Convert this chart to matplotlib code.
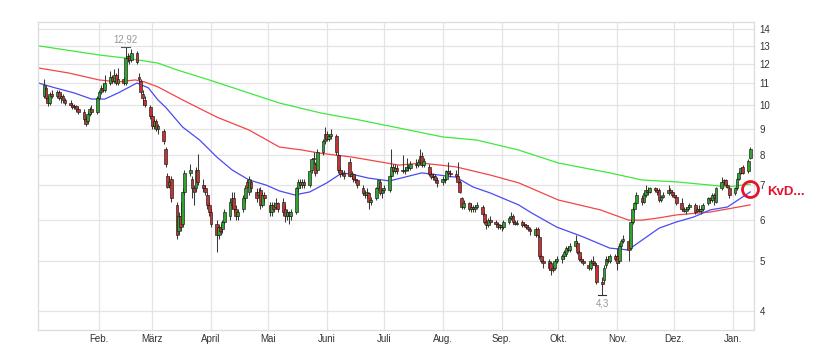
import matplotlib
matplotlib.use('Agg')
import matplotlib.pyplot as plt
import matplotlib.dates as mdates
import matplotlib.ticker as mticker
import numpy as np
import pandas as pd

plt.rcParams['font.family'] = ['Liberation Sans', 'DejaVu Sans']

# ---- daily candles (business days 2022-01-03 .. 2023-01-10), one line per week ----
opens = [
    10.4, 10.8, 10.3, 10.1, 10.5,
    10.4, 10.6, 10.3, 10.4, 10.2,
    10.1, 10.0, 9.9, 9.95, 9.8,
    9.7, 9.4, 9.3, 9.6, 9.8,
    9.7, 10.3, 10.6, 10.8, 10.7,
    11.0, 11.3, 11.1, 11.4, 11.0,
    11.2, 11.0, 12.3, 12.4, 12.2,
    12.6, 11.3, 11.1, 10.5, 10.2,
    9.9, 9.5, 9.1, 9.3, 9.0,
    8.9, 8.2, 7.3, 7.0, 7.2,
    6.4, 5.7, 6.1, 5.9, 6.8,
    7.4, 7.2, 6.9, 6.9, 7.5,
    7.0, 6.9, 6.7, 6.4, 6.2,
    5.9, 5.6, 5.8, 5.75, 5.95,
    6.1, 6.4, 6.6, 6.3, 6.1,
    6.3, 6.6, 7.1, 6.8, 7.1,
    6.8, 6.7, 6.85, 6.4, 6.7,
    6.4, 6.2, 6.4, 6.35, 6.45,
    6.5, 6.3, 6.1, 6.2, 6.1,
    6.2, 6.9, 7.1, 7.0, 7.1,
    7.0, 7.5, 7.85, 7.7, 7.5,
    8.1, 8.5, 8.8, 8.6, 8.7,
    8.7, 8.0, 7.5, 7.35, 7.4,
    7.75, 7.3, 7.35, 7.2, 7.15,
    6.9, 6.75, 6.7, 6.75, 6.5,
    6.6, 6.9, 7.1, 6.75, 6.85,
    6.85, 7.3, 7.6, 7.45, 7.55,
    7.5, 7.45, 7.5, 7.6, 7.55,
    7.7, 7.65, 7.75, 7.95, 7.65,
    7.6, 7.35, 7.25, 7.3, 7.15,
    7.1, 7.2, 7.2, 7.45, 7.4,
    7.35, 7.3, 7.1, 6.6, 6.35,
    6.45, 6.3, 6.35, 6.3, 6.35,
    6.35, 6.15, 5.95, 5.85, 6.0,
    5.95, 5.9, 5.8, 5.85, 5.8,
    5.95, 6.05, 6.1, 5.95, 5.9,
    5.95, 5.9, 5.85, 5.8, 5.75,
    5.6, 5.75, 5.55, 5.1, 5.0,
    5.0, 4.95, 4.85, 4.85, 5.0,
    5.05, 5.1, 5.15, 5.3, 5.25,
    5.35, 5.4, 5.2, 5.05, 5.0,
    4.9, 4.85, 5.0, 4.95, 4.9,
    4.55, 4.6, 4.9, 5.05, 5.0,
    5.1, 5.1, 5.0, 5.35, 5.45,
    5.45, 5.3, 5.95, 6.3, 6.45,
    6.6, 6.5, 6.7, 6.85, 6.8,
    6.9, 6.85, 6.85, 6.55, 6.65,
    6.75, 6.85, 6.8, 6.7, 6.65,
    6.45, 6.3, 6.25, 6.3, 6.35,
    6.4, 6.25, 6.3, 6.25, 6.3,
    6.45, 6.6, 6.55, 6.7, 6.5,
    6.9, 7.1, 7.15, 7.0, 6.9,
    6.75, 6.9, 7.2, 7.4, 7.6,
    7.45, 7.9,
]
highs = [
    11.2, 10.9, 10.4, 10.6, 10.7,
    10.7, 10.7, 10.5, 10.5, 10.3,
    10.2, 10.1, 10.05, 10.0, 9.9,
    9.8, 9.5, 9.7, 9.9, 10.0,
    10.4, 10.7, 10.9, 11.0, 11.4,
    11.6, 11.4, 11.7, 11.5, 11.8,
    11.3, 12.92, 12.6, 12.5, 12.8,
    12.7, 11.5, 11.2, 10.7, 10.4,
    10.0, 9.6, 9.4, 9.4, 9.2,
    9.0, 8.3, 7.4, 7.3, 7.3,
    6.5, 6.2, 6.5, 6.9, 7.5,
    7.7, 7.3, 7.0, 7.6, 8.05,
    7.2, 7.0, 6.8, 6.5, 6.3,
    6.0, 5.9, 5.9, 6.0, 6.3,
    6.6, 6.8, 6.8, 6.4, 6.3,
    6.7, 7.0, 7.2, 7.3, 7.2,
    6.9, 6.9, 6.95, 6.8, 6.8,
    6.5, 6.5, 6.5, 6.6, 6.5,
    6.6, 6.4, 6.3, 6.25, 6.3,
    6.95, 7.2, 7.2, 7.2, 7.2,
    7.5, 7.9, 8.1, 7.75, 8.2,
    8.6, 9.05, 8.9, 8.8, 9.0,
    8.8, 8.1, 7.6, 7.5, 7.5,
    7.9, 7.45, 7.4, 7.3, 7.2,
    7.0, 6.85, 6.9, 6.8, 6.65,
    6.95, 7.2, 7.15, 6.9, 7.0,
    7.35, 8.2, 7.7, 7.7, 7.65,
    8.0, 7.6, 7.9, 7.7, 7.8,
    7.85, 7.85, 8.2, 8.1, 7.9,
    7.7, 7.45, 7.4, 7.35, 7.25,
    7.3, 7.3, 7.5, 7.75, 7.5,
    7.5, 7.75, 7.15, 6.65, 6.55,
    6.5, 6.45, 6.4, 6.4, 6.5,
    6.4, 6.2, 6.0, 6.05, 6.1,
    6.0, 5.95, 5.9, 5.9, 6.0,
    6.1, 6.2, 6.15, 6.0, 6.0,
    6.0, 5.95, 5.9, 5.85, 5.8,
    5.8, 5.8, 5.6, 5.15, 5.05,
    5.05, 5.0, 4.9, 5.05, 5.1,
    5.15, 5.25, 5.35, 5.35, 5.4,
    5.6, 5.45, 5.25, 5.1, 5.05,
    4.95, 5.05, 5.1, 5.0, 4.95,
    4.65, 4.9, 5.1, 5.1, 5.15,
    5.15, 5.3, 5.4, 5.5, 5.6,
    5.5, 6.0, 6.35, 6.5, 6.8,
    6.7, 6.8, 7.0, 6.95, 6.95,
    6.95, 6.9, 6.9, 6.7, 6.8,
    7.0, 6.9, 6.85, 6.75, 6.7,
    6.6, 6.35, 6.35, 6.4, 6.45,
    6.45, 6.35, 6.4, 6.35, 6.45,
    6.65, 6.65, 6.75, 6.75, 6.95,
    7.25, 7.2, 7.2, 7.05, 6.95,
    6.95, 7.25, 7.45, 7.6, 7.65,
    7.85, 8.3,
]
lows = [
    10.3, 10.2, 9.95, 10.0, 10.3,
    10.3, 10.2, 10.1, 10.1, 10.0,
    9.9, 9.8, 9.8, 9.7, 9.6,
    9.3, 9.1, 9.2, 9.5, 9.6,
    9.6, 10.2, 10.5, 10.6, 10.6,
    10.9, 11.0, 11.0, 10.9, 10.9,
    10.9, 10.9, 12.1, 12.0, 12.1,
    12.0, 11.0, 10.5, 10.0, 9.9,
    9.4, 9.0, 9.0, 8.9, 8.8,
    8.4, 7.6, 6.9, 6.9, 6.5,
    5.5, 5.6, 5.7, 5.8, 6.7,
    7.3, 6.6, 6.4, 6.8, 7.0,
    6.8, 6.7, 6.3, 6.1, 5.8,
    5.2, 5.5, 5.6, 5.65, 5.9,
    6.0, 6.3, 6.2, 6.0, 6.0,
    6.2, 6.5, 6.9, 6.7, 6.8,
    6.5, 6.6, 6.3, 6.35, 6.5,
    6.1, 6.1, 6.2, 6.3, 6.2,
    6.1, 5.95, 6.0, 5.9, 6.0,
    6.15, 6.8, 6.9, 6.9, 6.9,
    6.95, 7.4, 7.7, 7.3, 7.45,
    8.0, 8.4, 8.5, 8.5, 8.6,
    8.0, 7.4, 7.25, 7.3, 7.2,
    7.25, 7.2, 7.1, 7.05, 6.9,
    6.7, 6.6, 6.6, 6.3, 6.4,
    6.55, 6.85, 6.7, 6.6, 6.75,
    6.8, 7.25, 7.4, 7.4, 7.35,
    7.4, 7.35, 7.45, 7.45, 7.5,
    7.55, 7.6, 7.7, 7.6, 7.6,
    7.3, 7.2, 7.15, 7.05, 6.95,
    7.0, 7.05, 7.15, 7.3, 7.25,
    7.2, 7.05, 6.75, 6.3, 6.3,
    6.25, 6.2, 6.2, 6.2, 6.3,
    6.1, 5.9, 5.75, 5.8, 5.9,
    5.85, 5.75, 5.75, 5.7, 5.75,
    5.9, 6.0, 5.9, 5.85, 5.85,
    5.8, 5.8, 5.75, 5.7, 5.6,
    5.55, 5.55, 5.05, 4.95, 4.85,
    4.8, 4.7, 4.75, 4.8, 4.95,
    4.95, 5.05, 5.1, 5.2, 5.2,
    5.3, 5.15, 5.0, 4.95, 4.9,
    4.8, 4.8, 4.9, 4.85, 4.5,
    4.3, 4.55, 4.85, 4.95, 4.95,
    5.0, 4.8, 4.95, 5.3, 5.4,
    5.0, 5.25, 5.9, 6.2, 6.4,
    6.4, 6.45, 6.65, 6.7, 6.75,
    6.8, 6.7, 6.5, 6.5, 6.6,
    6.7, 6.75, 6.65, 6.6, 6.4,
    6.25, 6.2, 6.15, 6.25, 6.3,
    6.15, 6.2, 6.2, 6.15, 6.25,
    6.4, 6.5, 6.5, 6.4, 6.45,
    6.85, 7.0, 6.95, 6.9, 6.6,
    6.7, 6.85, 7.15, 7.35, 7.35,
    7.4, 7.85,
]
closes = [
    10.9, 10.3, 10.1, 10.5, 10.4,
    10.6, 10.3, 10.4, 10.2, 10.1,
    10.0, 9.9, 9.95, 9.8, 9.7,
    9.4, 9.2, 9.6, 9.8, 9.7,
    10.3, 10.6, 10.8, 10.7, 11.0,
    11.3, 11.1, 11.4, 11.0, 11.2,
    11.0, 12.3, 12.4, 12.2, 12.6,
    12.1, 11.2, 10.6, 10.3, 10.0,
    9.5, 9.1, 9.3, 9.0, 9.1,
    8.5, 7.7, 6.95, 7.1, 6.6,
    5.6, 6.1, 5.8, 6.8, 7.4,
    7.5, 6.9, 6.8, 7.5, 7.1,
    6.9, 6.8, 6.4, 6.2, 5.9,
    5.6, 5.8, 5.7, 5.95, 6.2,
    6.5, 6.6, 6.3, 6.1, 6.2,
    6.6, 6.9, 6.95, 7.2, 6.9,
    6.6, 6.8, 6.4, 6.7, 6.6,
    6.2, 6.4, 6.3, 6.45, 6.3,
    6.2, 6.1, 6.2, 6.1, 6.2,
    6.9, 7.1, 7.0, 7.1, 7.0,
    7.45, 7.85, 7.9, 7.4, 8.1,
    8.5, 8.8, 8.6, 8.7, 8.8,
    8.1, 7.5, 7.35, 7.4, 7.3,
    7.3, 7.35, 7.2, 7.15, 7.0,
    6.75, 6.7, 6.8, 6.5, 6.55,
    6.9, 7.15, 6.75, 6.85, 6.9,
    7.3, 7.6, 7.45, 7.55, 7.45,
    7.45, 7.5, 7.6, 7.55, 7.7,
    7.65, 7.75, 7.95, 7.65, 7.8,
    7.35, 7.25, 7.3, 7.15, 7.05,
    7.2, 7.15, 7.45, 7.4, 7.35,
    7.3, 7.1, 6.8, 6.35, 6.45,
    6.3, 6.35, 6.3, 6.35, 6.4,
    6.15, 5.95, 5.85, 6.0, 5.95,
    5.9, 5.8, 5.85, 5.8, 5.95,
    6.05, 6.1, 5.95, 5.9, 5.92,
    5.85, 5.85, 5.8, 5.75, 5.7,
    5.75, 5.6, 5.1, 5.0, 4.95,
    4.85, 4.8, 4.8, 5.0, 5.05,
    5.1, 5.2, 5.3, 5.25, 5.35,
    5.45, 5.2, 5.05, 5.0, 4.95,
    4.85, 5.0, 4.95, 4.9, 4.55,
    4.5, 4.85, 5.05, 5.0, 5.1,
    5.05, 4.95, 5.35, 5.45, 5.5,
    5.25, 5.95, 6.3, 6.45, 6.7,
    6.5, 6.75, 6.85, 6.8, 6.9,
    6.85, 6.8, 6.55, 6.65, 6.7,
    6.85, 6.8, 6.7, 6.65, 6.45,
    6.3, 6.25, 6.3, 6.35, 6.4,
    6.2, 6.3, 6.25, 6.3, 6.4,
    6.6, 6.55, 6.7, 6.6, 6.9,
    7.1, 7.15, 7.0, 6.95, 6.7,
    6.9, 7.2, 7.4, 7.55, 7.4,
    7.8, 8.2,
]

# ---- moving averages ----
ma200_dates = ['2021-12-31', '2022-02-01', '2022-02-15', '2022-03-04', '2022-03-14', '2022-03-31',
               '2022-05-07', '2022-05-29', '2022-06-18', '2022-07-09', '2022-08-01', '2022-08-19',
               '2022-09-10', '2022-10-01', '2022-10-28', '2022-11-14', '2022-12-02', '2022-12-20',
               '2022-12-29', '2023-01-10']
ma200_vals = [13.0, 12.48, 12.31, 12.04, 11.68, 11.17,
              10.08, 9.64, 9.35, 9.02, 8.67, 8.55,
              8.18, 7.72, 7.39, 7.16, 7.10, 7.0,
              6.94, 7.03]

ma100_dates = ['2021-12-31', '2022-01-16', '2022-02-01', '2022-02-11', '2022-02-20', '2022-02-25',
               '2022-03-04', '2022-03-17', '2022-04-04', '2022-04-21', '2022-05-07', '2022-05-19',
               '2022-05-28', '2022-06-14', '2022-07-09', '2022-07-21', '2022-08-08', '2022-08-26',
               '2022-09-10', '2022-10-01', '2022-10-23', '2022-11-07', '2022-11-14', '2022-11-23',
               '2022-12-02', '2022-12-20', '2023-01-10']
ma100_vals = [11.78, 11.52, 11.17, 11.07, 11.17, 11.07,
              10.83, 10.22, 9.47, 8.94, 8.29, 8.18,
              8.07, 7.93, 7.65, 7.72, 7.59, 7.32,
              7.07, 6.55, 6.27, 5.99, 5.99, 6.05,
              6.13, 6.21, 6.41]

ma38_dates = ['2021-12-31', '2022-01-09', '2022-01-19', '2022-01-28', '2022-02-04', '2022-02-11',
              '2022-02-21', '2022-02-27', '2022-03-04', '2022-03-08', '2022-03-17', '2022-03-26',
              '2022-04-04', '2022-04-12', '2022-04-21', '2022-04-30', '2022-05-07', '2022-05-15',
              '2022-05-23', '2022-06-01', '2022-06-09', '2022-06-16', '2022-06-23', '2022-07-04',
              '2022-07-21', '2022-07-30', '2022-08-08', '2022-08-17', '2022-08-26', '2022-09-10',
              '2022-09-17', '2022-09-30', '2022-10-14', '2022-10-28', '2022-11-06', '2022-11-09',
              '2022-11-14', '2022-11-23', '2022-12-02', '2022-12-11', '2022-12-20', '2022-12-29',
              '2023-01-10']
ma38_vals = [11.02, 10.78, 10.54, 10.26, 10.26, 10.54,
             11.02, 10.78, 10.22, 9.90, 9.06, 8.55,
             7.93, 7.49, 7.16, 7.0, 6.82, 6.70,
             6.79, 7.07, 7.39, 7.32, 7.22, 7.13,
             7.39, 7.32, 7.25, 6.94, 6.76, 6.41,
             6.18, 5.81, 5.56, 5.29, 5.25, 5.32,
             5.48, 5.78, 5.94, 6.07, 6.27, 6.35,
             6.79]

ytick_vals = [4, 5, 6, 7, 8, 9, 10, 11, 12, 13, 14]
month_ticks = ['2022-02-01', '2022-03-01', '2022-04-01', '2022-05-01', '2022-06-01', '2022-07-01',
               '2022-08-01', '2022-09-01', '2022-10-01', '2022-11-01', '2022-12-01', '2023-01-01']
month_labels = ['Feb.', 'März', 'April', 'Mai', 'Juni', 'Juli', 'Aug.', 'Sep.', 'Okt.', 'Nov.', 'Dez.', 'Jan.']

high_label = ('2022-02-15', 12.92, '12,92')
low_label = ('2022-10-24', 4.3, '4,3')
marker_point = ('2023-01-10', 6.88)
marker_text = 'KvD...'

# ---- figure ----
dates = pd.bdate_range('2022-01-03', '2023-01-10')
o = np.array(opens); h = np.array(highs); l = np.array(lows); c = np.array(closes)
assert len(dates) == len(o) == len(h) == len(l) == len(c)
xd = mdates.date2num(dates)

fig = plt.figure(figsize=(8.17, 3.64), dpi=100)
ax = fig.add_axes([38 / 817, 34 / 364, (754 - 38) / 817, (330 - 22) / 364])
ax.set_yscale('log')
ax.set_ylim(3.676, 14.45)
ax.set_xlim(mdates.date2num(pd.Timestamp('2021-12-30 20:00')), mdates.date2num(pd.Timestamp('2023-01-12')))

grid_c = '#e4e4e4'
for yv in ytick_vals:
    ax.axhline(yv, color=grid_c, lw=0.9, zorder=0)
for mt in month_ticks:
    ax.axvline(mdates.date2num(pd.Timestamp(mt)), color=grid_c, lw=0.9, zorder=0)

# moving averages
line_kw = dict(lw=0.9, zorder=2, solid_joinstyle='round')
ax.plot(pd.to_datetime(ma200_dates), ma200_vals, color='#3ee83e', **line_kw)
ax.plot(pd.to_datetime(ma100_dates), ma100_vals, color='#f24646', **line_kw)
ax.plot(pd.to_datetime(ma38_dates), ma38_vals, color='#4a4af5', **line_kw)

# candles
up = c >= o
ax.vlines(xd, l, h, color='#3a3a3a', lw=0.75, zorder=3)
body_bottom = np.minimum(o, c)
body_h = np.abs(c - o)
colors = np.where(up, '#2fa52f', '#c43232')
ax.bar(xd, body_h, bottom=body_bottom, width=1.45, color=colors, edgecolor='#1a1a1a',
       linewidth=0.45, zorder=4)

# high / low annotations
hx = mdates.date2num(pd.Timestamp(high_label[0]))
ax.plot([hx - 2.2, hx + 2.2], [high_label[1]] * 2, color='#555555', lw=0.8, zorder=5)
ax.annotate(high_label[2], xy=(hx, high_label[1]), xytext=(0, 2), textcoords='offset points',
            ha='center', va='bottom', color='#9a9a9a', fontsize=7)
lx = mdates.date2num(pd.Timestamp(low_label[0]))
ax.plot([lx - 2.2, lx + 2.2], [low_label[1]] * 2, color='#333333', lw=0.8, zorder=5)
ax.annotate(low_label[2], xy=(lx, low_label[1]), xytext=(0, -2.5), textcoords='offset points',
            ha='center', va='top', color='#9a9a9a', fontsize=7)

# axes styling
ax.yaxis.tick_right()
ax.yaxis.set_minor_locator(mticker.NullLocator())
ax.set_yticks(ytick_vals)
ax.set_yticklabels([str(v) for v in ytick_vals])
ax.set_xticks([mdates.date2num(pd.Timestamp(m)) for m in month_ticks])
ax.set_xticklabels(month_labels)
ax.xaxis.set_minor_locator(mticker.NullLocator())
ax.tick_params(axis='both', length=0, labelsize=7, colors='#333333')
ax.tick_params(axis='y', pad=4)
ax.tick_params(axis='x', pad=3)
for s in ax.spines.values():
    s.set_color('#dcdcdc')
    s.set_linewidth(0.9)

# marker circle and label
mx = mdates.date2num(pd.Timestamp(marker_point[0]))
ax.plot([mx], [marker_point[1]], marker='o', ms=11.5, mfc='none', mec='#e8102a', mew=2,
        clip_on=False, zorder=6)
fig.text(767 / 817, 1 - 192 / 364, marker_text, color='#e8102a', fontsize=9.5,
         fontweight='bold', ha='left', va='center')

fig.savefig('out.png', dpi=100)
